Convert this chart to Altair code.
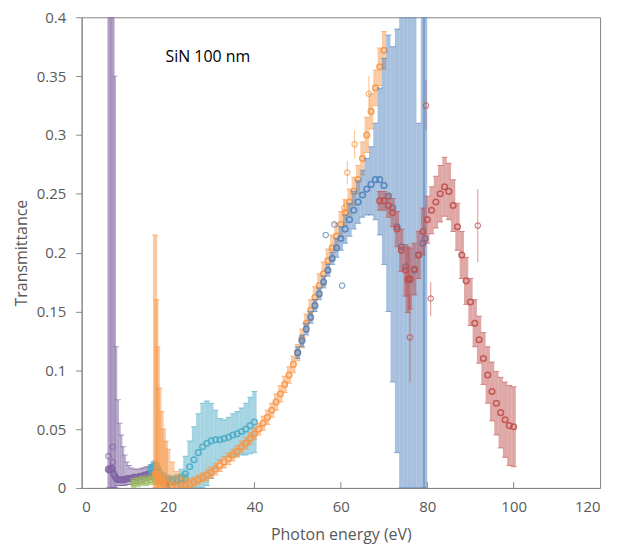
import altair as alt
import pandas as pd

# ---------------- data ----------------
purple_E = [6.2, 6.5, 6.8, 7.1, 7.4, 7.7, 8.0, 8.4, 8.8, 9.2, 9.6, 10.0, 10.5, 11, 11.5, 12, 12.5, 13, 13.5, 14, 14.5, 15, 15.5, 16, 16.5, 17]
purple_T = [0.016, 0.015, 0.017, 0.016, 0.012, 0.010, 0.008, 0.007, 0.007, 0.007, 0.007, 0.007, 0.008, 0.008, 0.008, 0.009, 0.009, 0.009, 0.010, 0.010, 0.011, 0.011, 0.012, 0.012, 0.013, 0.014]
purple_lo = [0, 0, 0, 0, 0, 0, 0, 0.002, 0.002, 0.002, 0.002, 0.002, 0.003, 0.003, 0.003, 0.004, 0.004, 0.004, 0.005, 0.005, 0.006, 0.006, 0.007, 0.007, 0.008, 0.009]
purple_hi = [0.6, 0.6, 0.6, 0.6, 0.6, 0.35, 0.12, 0.075, 0.055, 0.045, 0.035, 0.028, 0.022, 0.019, 0.017, 0.016, 0.016, 0.016, 0.016, 0.017, 0.017, 0.018, 0.018, 0.019, 0.020, 0.020]

green_E = [12, 13, 14, 15, 16, 17, 18, 19, 20, 21, 22, 23, 24]
green_T = [0.004, 0.005, 0.006, 0.006, 0.007, 0.007, 0.006, 0.005, 0.005, 0.006, 0.007, 0.008, 0.008]
green_lo = [0.000, 0.001, 0.002, 0.002, 0.003, 0.003, 0.002, 0.001, 0.001, 0.002, 0.003, 0.004, 0.004]
green_hi = [0.008, 0.009, 0.010, 0.010, 0.011, 0.011, 0.010, 0.009, 0.009, 0.010, 0.011, 0.012, 0.012]

cyan_E = [16, 16.5, 17, 17.5, 18, 19, 20, 21, 22, 23, 24, 25, 26, 27, 28, 29, 30, 31, 32, 33, 34, 35, 36, 37, 38, 39, 40]
cyan_T = [0.016, 0.018, 0.019, 0.017, 0.013, 0.009, 0.007, 0.006, 0.006, 0.008, 0.012, 0.018, 0.024, 0.030, 0.035, 0.038, 0.040, 0.041, 0.041, 0.042, 0.043, 0.045, 0.046, 0.048, 0.050, 0.053, 0.056]
cyan_err = [0.004, 0.004, 0.004, 0.004, 0.004, 0.004, 0.004, 0.004, 0.005, 0.008, 0.015, 0.022, 0.028, 0.033, 0.037, 0.036, 0.032, 0.025, 0.018, 0.016, 0.017, 0.018, 0.019, 0.020, 0.022, 0.024, 0.026]

orange_E = [17.0, 17.3, 17.6, 18.0, 18.5, 19, 19.5, 20, 21, 22, 23, 24, 25, 26, 27, 28, 29, 30, 31, 32, 33, 34, 35, 36, 37, 38, 39, 40,
            41, 42, 43, 44, 45, 46, 47, 48, 49, 50, 51, 52, 53, 54, 55, 56, 57, 58, 59, 60, 61, 62, 63, 64, 65, 66, 67, 68, 69, 70]
orange_T = [0.012, 0.011, 0.010, 0.008, 0.007, 0.005, 0.004, 0.003, 0.002, 0.001, 0.001, 0.002, 0.003, 0.005, 0.007, 0.009, 0.011, 0.013, 0.016, 0.019, 0.022, 0.025, 0.028, 0.031, 0.035, 0.038, 0.042, 0.046,
            0.050, 0.055, 0.060, 0.066, 0.073, 0.080, 0.088, 0.096, 0.105, 0.115, 0.127, 0.140, 0.151, 0.162, 0.172, 0.182, 0.193, 0.204, 0.214, 0.224, 0.234, 0.243, 0.252, 0.262, 0.280, 0.300, 0.320, 0.340, 0.358, 0.372]
orange_lo = [0, 0, 0, 0, 0, 0, 0, 0, 0, 0, 0, 0, 0, 0.001, 0.003, 0.005, 0.006, 0.008, 0.011, 0.014, 0.017, 0.020, 0.023, 0.026, 0.030, 0.033, 0.037, 0.041,
             0.045, 0.049, 0.054, 0.060, 0.066, 0.073, 0.081, 0.089, 0.098, 0.108, 0.119, 0.132, 0.142, 0.153, 0.162, 0.172, 0.183, 0.193, 0.203, 0.213, 0.223, 0.232, 0.240, 0.250, 0.266, 0.285, 0.305, 0.325, 0.342, 0.356]
orange_hi = [0.215, 0.16, 0.12, 0.085, 0.065, 0.050, 0.040, 0.033, 0.022, 0.014, 0.010, 0.008, 0.008, 0.009, 0.011, 0.013, 0.016, 0.018, 0.021, 0.024, 0.027, 0.030, 0.033, 0.036, 0.040, 0.043, 0.047, 0.051,
             0.055, 0.061, 0.066, 0.072, 0.080, 0.087, 0.095, 0.103, 0.112, 0.122, 0.135, 0.148, 0.160, 0.171, 0.182, 0.192, 0.203, 0.215, 0.225, 0.235, 0.245, 0.254, 0.264, 0.274, 0.294, 0.315, 0.335, 0.355, 0.374, 0.388]

blue_E = [50, 51, 52, 53, 54, 55, 56, 57, 58, 59, 60, 61, 62, 63, 64, 65, 66, 67, 68, 69, 70, 71, 72, 73, 74, 75, 76, 77, 78, 79, 79.5]
blue_T = [0.115, 0.125, 0.135, 0.145, 0.155, 0.165, 0.175, 0.185, 0.195, 0.204, 0.212, 0.220, 0.228, 0.236, 0.243, 0.249, 0.254, 0.258, 0.262, 0.262, 0.257, 0.248, 0.238, 0.222, 0.205, 0.188, 0.177, 0.185, 0.198, 0.208, 0.212]
blue_lo = [0.110, 0.120, 0.130, 0.140, 0.150, 0.160, 0.170, 0.180, 0.190, 0.196, 0.202, 0.208, 0.214, 0.220, 0.225, 0.230, 0.232, 0.232, 0.228, 0.215, 0.190, 0.150, 0.090, 0.030, 0, 0, 0, 0, 0, 0, 0]
blue_hi = [0.120, 0.130, 0.140, 0.150, 0.160, 0.170, 0.180, 0.190, 0.200, 0.212, 0.222, 0.232, 0.242, 0.252, 0.261, 0.270, 0.280, 0.290, 0.310, 0.340, 0.365, 0.385, 0.375, 0.390, 0.45, 0.45, 0.45, 0.45, 0.31, 0.45, 0.45]

red_E = [69, 70, 71, 72, 73, 74, 75, 75.5, 76, 77, 78, 79, 80, 81, 82, 83, 84, 85, 86, 87, 88, 89, 90, 91, 92, 93, 94, 95, 96, 97, 98, 99, 100]
red_T = [0.244, 0.244, 0.240, 0.234, 0.220, 0.202, 0.185, 0.177, 0.178, 0.186, 0.198, 0.218, 0.228, 0.236, 0.243, 0.250, 0.256, 0.252, 0.240, 0.222, 0.198, 0.176, 0.158, 0.140, 0.126, 0.110, 0.096, 0.082, 0.072, 0.064, 0.058, 0.053, 0.052]
red_err = [0.008, 0.008, 0.010, 0.012, 0.015, 0.018, 0.022, 0.028, 0.026, 0.022, 0.020, 0.020, 0.020, 0.020, 0.022, 0.024, 0.025, 0.024, 0.022, 0.020, 0.020, 0.020, 0.020, 0.020, 0.020, 0.022, 0.024, 0.025, 0.027, 0.030, 0.032, 0.034, 0.034]

# scattered single points (with their own thin error bars)
out_series = ["purple", "purple", "purple", "orange", "orange", "orange", "orange", "blue", "blue", "blue", "red", "red", "red", "red"]
out_E = [6.2, 7.2, 7.2, 60.8, 61.5, 63.2, 66.5, 56.5, 58.5, 60.3, 76.0, 80.8, 91.7, 79.7]
out_T = [0.027, 0.035, 0.022, 0.238, 0.268, 0.292, 0.335, 0.215, 0.224, 0.172, 0.128, 0.161, 0.223, 0.325]
out_lo = [0.027, 0.035, 0.022, 0.230, 0.258, 0.280, 0.320, 0.215, 0.224, 0.172, 0.090, 0.146, 0.192, 0.304]
out_hi = [0.027, 0.035, 0.022, 0.246, 0.278, 0.304, 0.350, 0.215, 0.224, 0.172, 0.165, 0.175, 0.254, 0.347]

x_ticks = [0, 20, 40, 60, 80, 100, 120]
y_ticks = [0, 0.05, 0.1, 0.15, 0.2, 0.25, 0.3, 0.35, 0.4]
inner_x_ticks = [20, 40, 60, 80, 100]
annotation = "SiN 100 nm"

colors = {
    "purple": "#8064A2",
    "green": "#9BBB59",
    "cyan": "#4BACC6",
    "orange": "#F79646",
    "blue": "#4F81BD",
    "red": "#C0504D",
}

FONT = "Open Sans"
GRAY = "#595959"
LINE = "#868686"

xscale = alt.Scale(domain=[0, 120], nice=False, zero=False)
yscale = alt.Scale(domain=[0, 0.4], nice=False)
xaxis = alt.Axis(values=x_ticks, title="Photon energy (eV)", grid=False, tickSize=0,
                 labelPadding=12, titlePadding=12, domainColor=LINE)
yaxis = alt.Axis(values=y_ticks, format="~g", title="Transmittance", grid=False, tickSize=6,
                 tickColor=LINE, labelPadding=10, titlePadding=7, domainColor=LINE)


def X(field):
    return alt.X(field, type="quantitative", scale=xscale, axis=xaxis, title="Photon energy (eV)")


def Y(field):
    return alt.Y(field, type="quantitative", scale=yscale, axis=yaxis, title="Transmittance")


def series_layers(E, T, lo, hi, color, sw):
    df = pd.DataFrame({"E": E, "T": T, "lo": lo, "hi": hi})
    base = alt.Chart(df)
    bars = base.mark_rule(color=color, opacity=0.5, strokeWidth=sw, clip=True).encode(
        x=X("E"), y=Y("lo"), y2="hi")
    cap_hi = base.mark_tick(color=color, opacity=0.6, size=6, thickness=1, orient="horizontal", clip=True).encode(
        x=X("E"), y=Y("hi"))
    cap_lo = base.mark_tick(color=color, opacity=0.6, size=6, thickness=1, orient="horizontal", clip=True).encode(
        x=X("E"), y=Y("lo"))
    pts = base.mark_point(shape="circle", filled=False, color=color, size=32, strokeWidth=1.5, opacity=0.9, clip=True).encode(
        x=X("E"), y=Y("T"))
    return [bars, cap_hi, cap_lo, pts]


layers = []
layers += series_layers(purple_E, purple_T, purple_lo, purple_hi, colors["purple"], 2.2)
layers += series_layers(green_E, green_T, green_lo, green_hi, colors["green"], 4.3)
layers += series_layers(cyan_E, cyan_T,
                        [max(0.0, t - e) for t, e in zip(cyan_T, cyan_err)],
                        [t + e for t, e in zip(cyan_T, cyan_err)], colors["cyan"], 4.3)
layers += series_layers(orange_E, orange_T, orange_lo, orange_hi, colors["orange"], 4.3)
layers += series_layers(blue_E, blue_T, blue_lo, blue_hi, colors["blue"], 4.3)
layers += series_layers(red_E, red_T,
                        [t - e for t, e in zip(red_T, red_err)],
                        [t + e for t, e in zip(red_T, red_err)], colors["red"], 4.3)

out_df = pd.DataFrame({"series": out_series, "E": out_E, "T": out_T, "lo": out_lo, "hi": out_hi})
cscale = alt.Scale(domain=list(colors.keys()), range=list(colors.values()))
out_base = alt.Chart(out_df)
layers.append(out_base.mark_rule(strokeWidth=1, opacity=0.6, clip=True).encode(
    x=X("E"), y=Y("lo"), y2="hi", color=alt.Color("series:N", scale=cscale, legend=None)))
layers.append(out_base.mark_point(shape="circle", filled=False, size=30, strokeWidth=1.2, clip=True).encode(
    x=X("E"), y=Y("T"), color=alt.Color("series:N", scale=cscale, legend=None)))

tick_df = pd.DataFrame({"E": inner_x_ticks})
layers.append(alt.Chart(tick_df).mark_rule(color=LINE, strokeWidth=1).encode(
    x=X("E"), y=alt.value(467), y2=alt.value(473)))

text_df = pd.DataFrame({"E": [19.4], "T": [0.366], "label": [annotation]})
layers.append(alt.Chart(text_df).mark_text(align="left", baseline="middle", fontSize=16, font=FONT, color="#000000").encode(
    x=X("E"), y=Y("T"), text="label:N"))

chart = alt.layer(*layers).properties(
    width=521, height=473,
    autosize=alt.AutoSizeParams(type="none"),
    padding={"left": 74, "top": 8, "right": 12, "bottom": 57},
).configure_view(
    stroke=LINE, strokeWidth=1
).configure_axis(
    labelFont=FONT, titleFont=FONT, labelFontSize=15, titleFontSize=16,
    labelColor=GRAY, titleColor=GRAY, titleFontWeight="normal", domainWidth=1
)

chart.save("out.html", embed_options={"renderer": "svg", "actions": False})
